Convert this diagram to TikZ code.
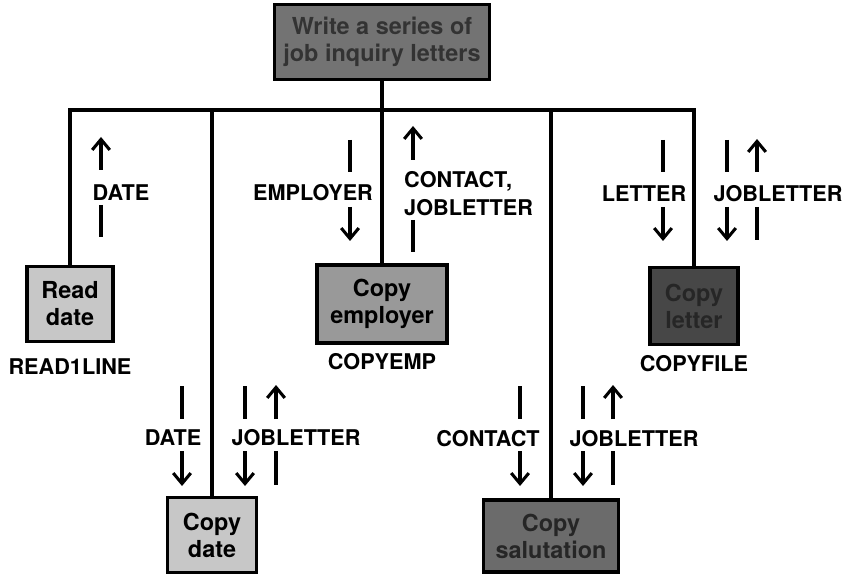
\documentclass[tikz,border=0pt]{standalone}
\usepackage{fontspec}
\setmainfont{TeX Gyre Heros}
\usetikzlibrary{arrows.meta}

\begin{document}
\begin{tikzpicture}[x=0.3mm,y=-0.3mm,>={Straight Barb[length=9pt,width=15pt]},
  module/.style={draw,line width=2.6pt,align=center,inner sep=2pt,
    font=\bfseries\fontsize{20}{23}\selectfont},
  lab/.style={font=\bfseries\fontsize{18.5}{24}\selectfont,inner sep=0pt},
  bus/.style={line width=2.6pt},
  flow/.style={line width=2.6pt}]
\useasboundingbox (0,0) rectangle (852,577);
% ---------------- modules ----------------
\node[module,fill=black!55,text=black!80,minimum width=64.5mm,minimum height=22.5mm] (main) at (382,42) {Write a series of\\job inquiry letters};
\node[module,fill=black!22,minimum width=25.8mm,minimum height=22.5mm] (readdate) at (70,304) {Read\\date};
\node[module,fill=black!40,minimum width=39mm,minimum height=23.4mm] (copyemp) at (382,304) {Copy\\employer};
\node[module,fill=black!72,text=black!85,minimum width=26.4mm,minimum height=23.1mm] (copyletter) at (694,306) {Copy\\letter};
\node[module,fill=black!22,minimum width=26.7mm,minimum height=22.5mm] (copydate) at (212,535) {Copy\\date};
\node[module,fill=black!58,text=black!85,minimum width=40.5mm,minimum height=21.6mm] (copysal) at (551,536) {Copy\\salutation};
% names of the routines
\node[lab] (readname) at (70,367) {READ1LINE};
\node[lab] (empname) at (382,362) {COPYEMP};
\node[lab] (filename) at (694,364) {COPYFILE};
% ---------------- tree ----------------
\coordinate (hub) at (382,110);
\draw[bus] (main) -- (hub);
\draw[bus] (readdate.north) |- (hub) -| (copyletter.north);
\foreach \m in {copyemp,copydate,copysal}
  \draw[bus] (\m.north) -- (\m.north |- hub);
% ---------------- data flows ----------------
% downward flows: bar over the label, arrow under it
\foreach \x/\ta/\tb/\ba/\bb in {350/140/172/207/241,663/140/172/207/241,727/140/172/207/241,
    182/386/419/451/486,245/386/419/451/486,520/386/419/451/486,583/386/419/451/486}
  {\draw[flow] (\x,\ta) -- (\x,\tb);
   \draw[flow,->] (\x,\ba) -- (\x,\bb);}
% upward flows: arrow over the label, bar under it
\foreach \x/\ta/\tb/\ba/\bb in {101/137/170/205/237,413/126/160/220/252,757/139/172/207/240,
    276/385/419/451/485,613/385/419/451/485}
  {\draw[flow,->] (\x,\tb) -- (\x,\ta);
   \draw[flow] (\x,\ba) -- (\x,\bb);}
\node[lab] (dateup) at (121,193) {DATE};
\node[lab] (empdown) at (313,193) {EMPLOYER};
\node[lab,anchor=west,align=left] (contactup) at (404,194) {CONTACT,\\JOBLETTER};
\node[lab] (letterdown) at (644,194) {LETTER};
\node[lab] (jobone) at (778,194) {JOBLETTER};
\node[lab] (datedown) at (173,438) {DATE};
\node[lab] (jobtwo) at (296,438) {JOBLETTER};
\node[lab] (contactdown) at (488,439) {CONTACT};
\node[lab] (jobthree) at (634,439) {JOBLETTER};
\end{tikzpicture}
\end{document}
